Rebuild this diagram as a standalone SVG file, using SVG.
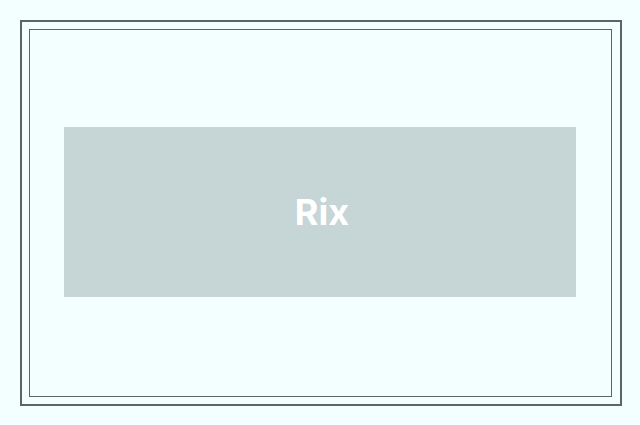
<svg xmlns="http://www.w3.org/2000/svg" width="640" height="425" viewBox="0 0 640 425">
<style>.f{fill:none;stroke:#576666}</style>
<rect width="640" height="425" fill="#f3fffe"/>
<rect class="f" x="21" y="21" width="600" height="384" stroke-width="2"/>
<rect class="f" x="29.5" y="29.5" width="582" height="367" stroke-width="1"/>
<g id="rix">
<rect x="64" y="127" width="512" height="170" fill="#c6d5d5"/>
<text x="322" y="225" text-anchor="middle" font-family="Inter, 'Noto Sans', sans-serif" font-weight="bold" font-size="36" fill="#ffffff">Rix</text>
</g>
</svg>
